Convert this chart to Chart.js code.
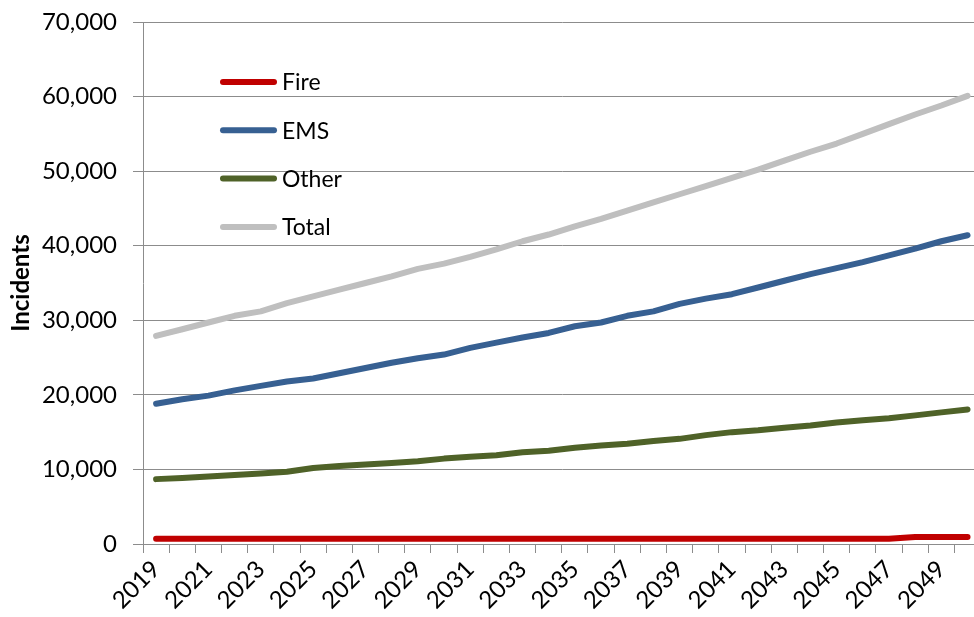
<!DOCTYPE html>
<html>
<head>
<meta charset="utf-8">
<script src="https://cdn.jsdelivr.net/npm/chart.js@4.4.0/dist/chart.umd.min.js"></script>
<style>
  html, body { margin: 0; padding: 0; background: #fff; overflow: hidden; }
  #wrap { position: relative; width: 990px; height: 617px; }
</style>
</head>
<body>
<div id="wrap"><canvas id="incidents"></canvas></div>
<script>
// Proyeccion de incidentes por tipo, 2019-2050
const years = ['2019','2020','2021','2022','2023','2024','2025','2026','2027','2028',
  '2029','2030','2031','2032','2033','2034','2035','2036','2037','2038',
  '2039','2040','2041','2042','2043','2044','2045','2046','2047','2048','2049','2050'];

const fire = [700,700,700,700,700,700,700,700,700,700,
  700,700,700,700,700,700,700,700,700,700,
  700,700,700,700,700,700,700,700,700,950,950,950];

const ems = [18800,19400,19900,20600,21200,21800,22200,22900,23600,24300,
  24900,25400,26300,27000,27700,28300,29200,29700,30600,31200,
  32200,32900,33500,34400,35300,36200,37000,37800,38700,39600,40600,41400];

const other = [8700,8850,9050,9250,9450,9700,10200,10450,10650,10850,
  11100,11450,11700,11900,12300,12500,12900,13200,13450,13800,
  14100,14600,15000,15250,15600,15900,16300,16600,16850,17250,17650,18050];

const total = [27900,28800,29700,30600,31200,32300,33200,34100,35000,35900,
  36900,37600,38500,39500,40600,41500,42600,43600,44700,45800,
  46900,48000,49100,50200,51400,52600,53700,55000,56300,57600,58800,60100];

const yTicks = { min: 0, max: 70000, step: 10000 };

const gridGray = '#8c8c8c';
Chart.defaults.font.family = 'Lato';
Chart.defaults.color = '#000';

// leyenda dibujada dentro del area del grafico
const innerLegend = {
  id: 'innerLegend',
  afterDatasetsDraw(chart) {
    const ctx = chart.ctx;
    const area = chart.chartArea;
    ctx.save();
    ctx.font = '23px Lato';
    ctx.textBaseline = 'middle';
    chart.data.datasets.forEach((ds, i) => {
      const y = area.top + 60 + i * 48.3;
      const x = area.left + 80;
      ctx.strokeStyle = ds.borderColor;
      ctx.lineWidth = 6;
      ctx.lineCap = 'round';
      ctx.beginPath();
      ctx.moveTo(x, y);
      ctx.lineTo(x + 51, y);
      ctx.stroke();
      ctx.fillStyle = '#000';
      ctx.fillText(ds.label, x + 59, y + 1);
    });
    ctx.restore();
  }
};

function serie(label, data, color) {
  return {
    label: label,
    data: data,
    borderColor: color,
    backgroundColor: color,
    borderWidth: 6,
    borderCapStyle: 'round',
    borderJoinStyle: 'round',
    pointRadius: 0,
    tension: 0
  };
}

const chart = new Chart(document.getElementById('incidents'), {
  type: 'line',
  data: {
    labels: years,
    datasets: [
      serie('Fire', fire, '#c00000'),
      serie('EMS', ems, '#376092'),
      serie('Other', other, '#4f6228'),
      serie('Total', total, '#bfbfbf')
    ]
  },
  options: {
    responsive: true,
    maintainAspectRatio: false,
    animation: false,
    layout: { padding: { top: 22, right: 6, left: 0, bottom: 0 } },
    plugins: { legend: { display: false }, tooltip: { enabled: false } },
    scales: {
      x: {
        offset: true,
        grid: { display: true, drawOnChartArea: false, drawTicks: true, tickLength: 9, offset: true, color: gridGray },
        border: { color: gridGray },
        ticks: {
          autoSkip: false,
          maxRotation: 45,
          minRotation: 45,
          padding: 2,
          font: { size: 24 },
          callback: function (v, i) { return i % 2 === 0 ? this.getLabelForValue(v) : ''; }
        },
        afterFit: s => { s.height = 73; }
      },
      y: {
        min: yTicks.min,
        max: yTicks.max,
        grid: { color: gridGray, tickLength: 10 },
        border: { color: gridGray },
        ticks: {
          stepSize: yTicks.step,
          padding: 16,
          font: { size: 24 },
          callback: v => v.toLocaleString('en-US')
        },
        title: {
          display: true,
          text: 'Incidents',
          font: { size: 24, weight: 'bold' },
          padding: { top: 7, bottom: 0 }
        },
        afterFit: s => {
          s.width = 143;
          s.paddingTop = 0;
          s.paddingBottom = 0;
        }
      }
    }
  },
  plugins: [innerLegend]
});
</script>
</body>
</html>
